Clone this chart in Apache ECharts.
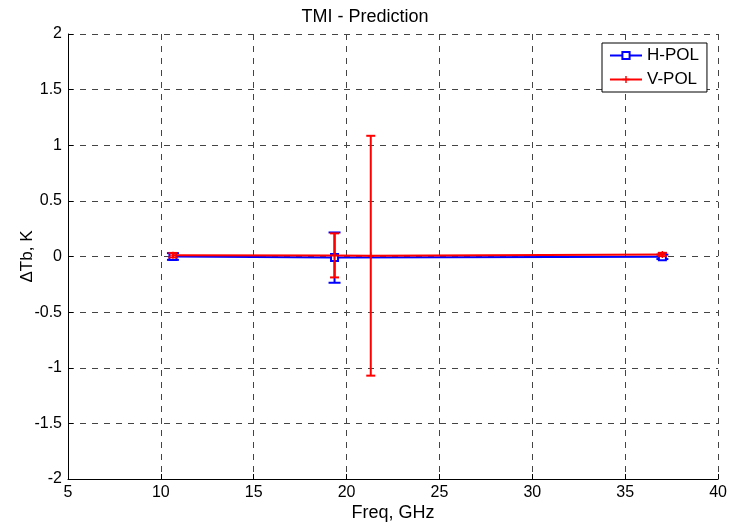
<!DOCTYPE html>
<html>
<head>
<meta charset="utf-8">
<script src="https://cdn.jsdelivr.net/npm/echarts@6/dist/echarts.min.js"></script>
<style>html,body{margin:0;padding:0;background:#fff}#c{width:730px;height:527px}</style>
</head>
<body>
<div id="c"></div>
<script>
// Data
var hFreq = [10.65, 19.35, 37.0];
var hVal  = [0.0, -0.01, -0.003];
var hErr  = [0.03, 0.226, 0.02];

var vFreq = [10.65, 19.35, 21.3, 37.0];
var vVal  = [0.012, 0.01, 0.007, 0.018];
var vErr  = [0.02, 0.198, 1.078, 0.015];

var xTicks = [5, 10, 15, 20, 25, 30, 35, 40];
var yTicks = [-2, -1.5, -1, -0.5, 0, 0.5, 1, 1.5, 2];

var FONT = '"Liberation Sans", Arial, sans-serif';

function pts(xs, ys) { return xs.map(function (x, i) { return [x, ys[i]]; }); }
function errPts(xs, ys, es) { return xs.map(function (x, i) { return [x, ys[i], es[i]]; }); }

function makeErr(color, capHalf) {
  return function (params, api) {
    var x = api.value(0), y = api.value(1), e = api.value(2);
    var t = api.coord([x, y + e]);
    var b = api.coord([x, y - e]);
    var st = { stroke: color, lineWidth: 2 };
    return {
      type: 'group',
      children: [
        { type: 'line', shape: { x1: t[0], y1: t[1], x2: b[0], y2: b[1] }, style: st },
        { type: 'line', shape: { x1: t[0] - capHalf, y1: t[1], x2: t[0] + capHalf, y2: t[1] }, style: st },
        { type: 'line', shape: { x1: b[0] - capHalf, y1: b[1], x2: b[0] + capHalf, y2: b[1] }, style: st }
      ]
    };
  };
}

var plusPath = 'path://M4,0 L6,0 L6,4 L10,4 L10,6 L6,6 L6,10 L4,10 L4,6 L0,6 L0,4 L4,4 Z';

var chart = echarts.init(document.getElementById('c'), null, { renderer: 'canvas' });
chart.setOption({
  animation: false,
  backgroundColor: '#fff',
  textStyle: { fontFamily: FONT, color: '#000' },
  title: {
    text: 'TMI - Prediction',
    left: 'center',
    top: 3,
    textStyle: { fontFamily: FONT, fontSize: 18, fontWeight: 'normal', color: '#000' }
  },
  legend: {
    data: ['H-POL', 'V-POL'],
    orient: 'vertical',
    left: 602,
    top: 43,
    itemWidth: 32,
    itemHeight: 9,
    itemGap: 7,
    padding: [4, 8, 4, 7],
    borderColor: '#000',
    borderWidth: 1,
    backgroundColor: '#fff',
    textStyle: { fontFamily: FONT, fontSize: 17, color: '#000' }
  },
  grid: { left: 68, right: 11, top: 34, bottom: 48, containLabel: false },
  xAxis: {
    type: 'value',
    min: 5, max: 40, interval: 5,
    name: 'Freq, GHz',
    nameLocation: 'middle',
    nameGap: 25,
    nameMoveOverlap: false,
    nameTextStyle: { fontFamily: FONT, fontSize: 18, color: '#000' },
    axisLine: { show: true, onZero: false, lineStyle: { color: '#000', width: 1 } },
    axisTick: { show: true, inside: true, length: 5, lineStyle: { color: '#000' } },
    axisLabel: { fontFamily: FONT, fontSize: 16, color: '#000', margin: 6,
      formatter: function (v) { return xTicks.indexOf(v) >= 0 ? String(v) : ''; } },
    splitLine: { show: true, lineStyle: { color: '#444', type: [6, 6], width: 1 } }
  },
  yAxis: {
    type: 'value',
    min: -2, max: 2, interval: 0.5,
    name: 'ΔTb, K',
    nameLocation: 'middle',
    nameRotate: 90,
    nameGap: 32,
    nameMoveOverlap: false,
    nameTextStyle: { fontFamily: FONT, fontSize: 17, color: '#000' },
    axisLine: { show: true, onZero: false, lineStyle: { color: '#000', width: 1 } },
    axisTick: { show: true, inside: true, length: 5, lineStyle: { color: '#000' } },
    axisLabel: { fontFamily: FONT, fontSize: 16, color: '#000', margin: 6,
      formatter: function (v) { return yTicks.indexOf(v) >= 0 ? String(v) : ''; } },
    splitLine: { show: true, lineStyle: { color: '#444', type: [6, 6], width: 1 } }
  },
  series: [
    {
      name: 'H-POL', type: 'line', data: pts(hFreq, hVal),
      symbol: 'emptyRect', symbolSize: 7, showAllSymbol: true,
      color: '#0000ff',
      lineStyle: { color: '#0000ff', width: 2 },
      itemStyle: { color: '#0000ff', borderColor: '#0000ff', borderWidth: 1.5 },
      z: 2
    },
    {
      name: 'H-POL', type: 'custom', data: errPts(hFreq, hVal, hErr),
      renderItem: makeErr('#0000ff', 6), encode: { x: 0, y: 1 }, z: 2
    },
    {
      name: 'V-POL', type: 'line', data: pts(vFreq, vVal),
      symbol: plusPath, symbolSize: 7, showAllSymbol: true,
      color: '#ff0000',
      lineStyle: { color: '#ff0000', width: 2 },
      itemStyle: { color: '#ff0000' },
      z: 3
    },
    {
      name: 'V-POL', type: 'custom', data: errPts(vFreq, vVal, vErr),
      renderItem: makeErr('#ff0000', 4.5), encode: { x: 0, y: 1 }, z: 3
    }
  ]
});
</script>
</body>
</html>
